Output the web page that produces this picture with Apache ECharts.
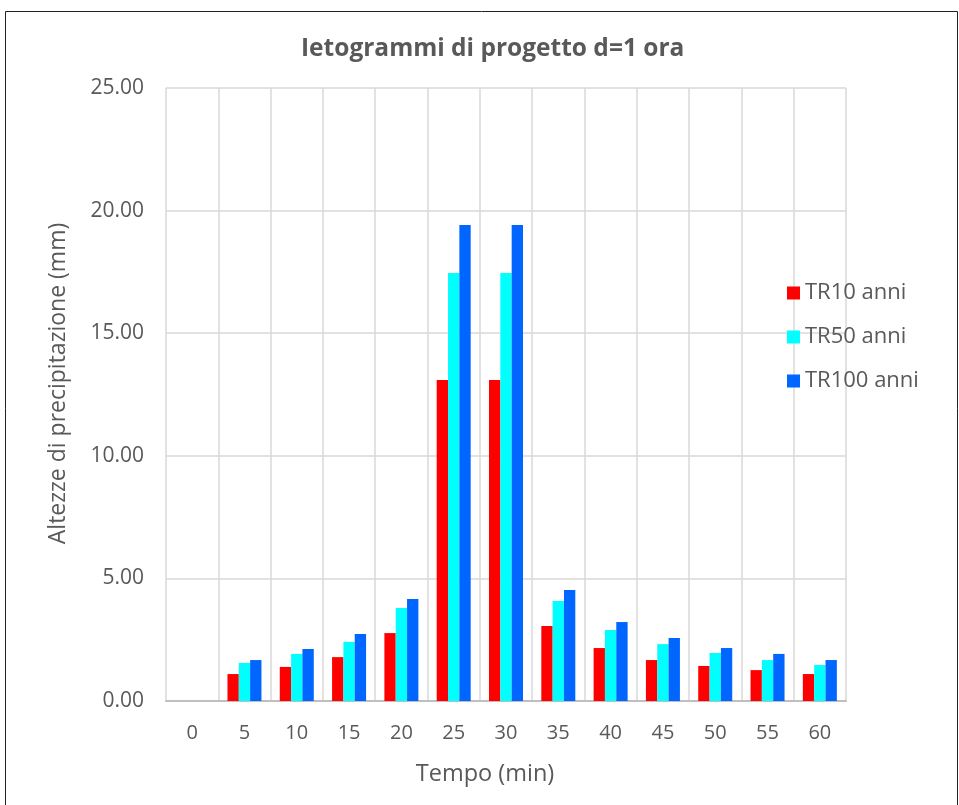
<!DOCTYPE html>
<html>
<head>
<meta charset="utf-8">
<script src="https://cdn.jsdelivr.net/npm/echarts@6/dist/echarts.min.js"></script>
<style>
  html, body { margin: 0; padding: 0; background: #fff; }
  #chart { width: 959px; height: 805px; }
</style>
</head>
<body>
<div id="chart"></div>
<script>
  // tempo (min)
  var categories = ['0', '5', '10', '15', '20', '25', '30', '35', '40', '45', '50', '55', '60']
  // altezze di precipitazione (mm)
  var tr10 = [0, 1.10, 1.39, 1.79, 2.77, 13.09, 13.09, 3.06, 2.16, 1.67, 1.43, 1.26, 1.10]
  var tr50 = [0, 1.55, 1.92, 2.41, 3.79, 17.46, 17.46, 4.08, 2.90, 2.32, 1.96, 1.67, 1.47]
  var tr100 = [0, 1.67, 2.12, 2.73, 4.16, 19.41, 19.41, 4.53, 3.22, 2.57, 2.16, 1.92, 1.67]
  var seriesNames = ['TR10 anni', 'TR50 anni', 'TR100 anni']

  var txtColor = '#595959'
  var font = 'Open Sans'

  var myChart = echarts.init(document.getElementById('chart'))
  var option = {
    animation: false,
    color: ['#ff0000', '#00ffff', '#0066ff'],
    title: {
      text: 'Ietogrammi di progetto d=1 ora',
      left: 296,
      top: 32,
      textStyle: { color: txtColor, fontFamily: font, fontSize: 24.5, fontWeight: 'bold' }
    },
    legend: {
      orient: 'vertical',
      left: 782,
      top: 277,
      itemGap: 22,
      itemWidth: 13,
      itemHeight: 13,
      icon: 'rect',
      textStyle: { color: txtColor, fontFamily: font, fontSize: 22 },
      data: seriesNames
    },
    graphic: [{
      type: 'rect',
      shape: { x: 5.5, y: 11.5, width: 952, height: 800 },
      style: { fill: 'none', stroke: '#222', lineWidth: 1 },
      silent: true
    }],
    grid: { left: 166, right: 113, top: 88, bottom: 104 },
    xAxis: {
      type: 'category',
      data: categories,
      name: 'Tempo (min)',
      nameLocation: 'middle',
      nameGap: 61,
      nameTextStyle: { color: txtColor, fontFamily: font, fontSize: 23.5, padding: [0, 42, 0, 0] },
      axisLine: { lineStyle: { color: '#bfbfbf', width: 2 } },
      axisTick: { show: false },
      axisLabel: { color: txtColor, fontFamily: font, fontSize: 20, margin: 22 },
      splitLine: { show: true, lineStyle: { color: '#d9d9d9', width: 1.5 } }
    },
    yAxis: {
      type: 'value',
      min: 0,
      max: 25,
      interval: 5,
      name: 'Altezze di precipitazione (mm)',
      nameLocation: 'middle',
      nameGap: 96,
      nameTextStyle: { color: txtColor, fontFamily: font, fontSize: 23, padding: [0, 0, 0, 22] },
      axisLine: { show: false },
      axisTick: { show: false },
      axisLabel: {
        color: txtColor, fontFamily: font, fontSize: 21, margin: 22,
        formatter: function (v) { return v.toFixed(2) }
      },
      splitLine: { lineStyle: { color: '#d9d9d9', width: 1.5 } }
    },
    series: [
      { name: seriesNames[0], type: 'bar', data: tr10, barGap: '0%', barCategoryGap: '35%' },
      { name: seriesNames[1], type: 'bar', data: tr50, barGap: '0%', barCategoryGap: '35%' },
      { name: seriesNames[2], type: 'bar', data: tr100, barGap: '0%', barCategoryGap: '35%' }
    ]
  }
  myChart.setOption(option)
</script>
</body>
</html>
